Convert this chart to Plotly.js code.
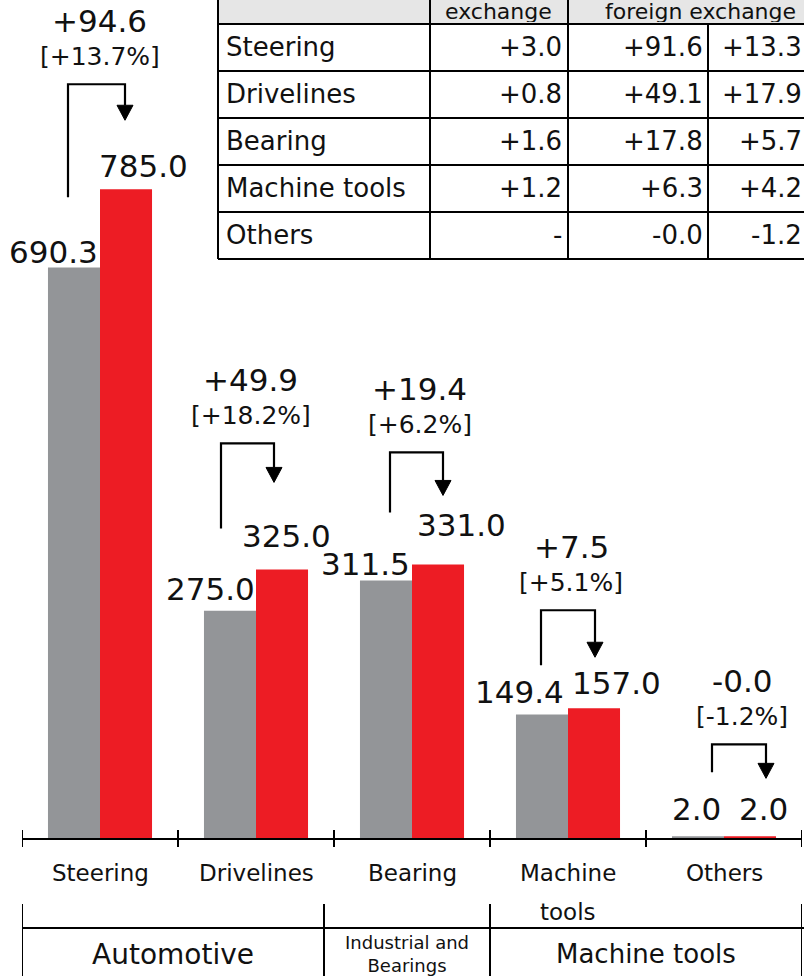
<!DOCTYPE html>
<html><head><meta charset="utf-8">
<script src="https://cdn.plot.ly/plotly-3.0.1.min.js"></script>
<style>html,body{margin:0;padding:0;background:#fff;}#chart{width:804px;height:976px;}</style>
</head><body><div id="chart"></div>
<script>
// ---------- DATA ----------
const categories   = ["Steering", "Drivelines", "Bearing", "Machine tools", "Others"];
const tickLabels   = ["Steering", "Drivelines", "Bearing", "Machine\ntools", "Others"];
const prevValues   = [690.3, 275.0, 311.5, 149.4, 2.0];
const currValues   = [785.0, 325.0, 331.0, 157.0, 2.0];
const changeValues = ["+94.6", "+49.9", "+19.4", "+7.5", "-0.0"];
const changePct    = ["[+13.7%]", "[+18.2%]", "[+6.2%]", "[+5.1%]", "[-1.2%]"];
const segmentNames = ["Automotive", "Industrial and<br>Bearings", "Machine tools"];
const tableRowLabels = ["Steering", "Drivelines", "Bearing", "Machine tools", "Others"];
const tableHeaders   = ["exchange", "foreign exchange"];
const fxImpact       = ["+3.0", "+0.8", "+1.6", "+1.2", "-"];
const exFxChange     = ["+91.6", "+49.1", "+17.8", "+6.3", "-0.0"];
const exFxRate       = ["+13.3", "+17.9", "+5.7", "+4.2", "-1.2"];

// ---------- STYLE / LAYOUT HELPERS ----------
const FONT = "DejaVu Sans";
const GRAY = "#939598", RED = "#ed1c24", INK = "#111111";
const PLOT_L = 22, PLOT_R = 802, PLOT_B = 838;
const pxX = p => (p - PLOT_L) / (PLOT_R - PLOT_L);   // pixel -> paper x
const pxY = p => (PLOT_B - p) / PLOT_B;               // pixel -> paper y

// label nudges [dx, up] in pixels
const grayLabelNudge = [[0,16],[1,22],[0,17],[-2,23],[-1,27]];
const redLabelNudge  = [[-3,23],[-16,33],[3,39],[2,25],[13,27]];
// bracket geometry in pixels relative to category centre and red bar top (up positive)
const brackets = [
  {xl:-32, bottom:-8, top:105, xr:25, tip:69},
  {xl:-35, bottom:41, top:126, xr:18, tip:87},
  {xl:-22, bottom:52, top:112, xr:31, tip:69},
  {xl:-27, bottom:43, top:98,  xr:27, tip:51},
  {xl:-12, bottom:64, top:92,  xr:42, tip:58}
];
const segmentEdges = [-0.5, 1.436, 2.5, 4.5];

const traces = [
  {type:"bar", x:categories, y:prevValues, marker:{color:GRAY}, hoverinfo:"none"},
  {type:"bar", x:categories, y:currValues, marker:{color:RED}, hoverinfo:"none"}
];

const annotations = [];
const shapes = [];

categories.forEach((c, i) => {
  // value labels
  annotations.push({x:i, y:prevValues[i], xref:"x", yref:"y", text:prevValues[i].toFixed(1),
    showarrow:false, xanchor:"right", yanchor:"middle", xshift:grayLabelNudge[i][0], yshift:grayLabelNudge[i][1],
    font:{family:FONT, size:31, color:INK}});
  annotations.push({x:i, y:currValues[i], xref:"x", yref:"y", text:currValues[i].toFixed(1),
    showarrow:false, xanchor:"left", yanchor:"middle", xshift:redLabelNudge[i][0], yshift:redLabelNudge[i][1],
    font:{family:FONT, size:31, color:INK}});
  // bracket arrow
  const b = brackets[i];
  const base = b.tip + 15;
  shapes.push({type:"path", xref:"x", yref:"y", xsizemode:"pixel", ysizemode:"pixel",
    xanchor:i, yanchor:currValues[i],
    path:`M${b.xl},${b.bottom} L${b.xl},${b.top} L${b.xr},${b.top} L${b.xr},${base}`,
    line:{color:"#000", width:2.2}});
  shapes.push({type:"path", xref:"x", yref:"y", xsizemode:"pixel", ysizemode:"pixel",
    xanchor:i, yanchor:currValues[i],
    path:`M${b.xr-8},${base} L${b.xr+8},${base} L${b.xr},${b.tip} Z`,
    fillcolor:"#000", line:{color:"#000", width:1}});
  const cx = (b.xl + b.xr) / 2 + 3;
  annotations.push({x:i, y:currValues[i], xref:"x", yref:"y", text:changePct[i], showarrow:false,
    xanchor:"center", yanchor:"middle", xshift:cx, yshift:b.top + 28,
    font:{family:FONT, size:25, color:INK}});
  annotations.push({x:i, y:currValues[i], xref:"x", yref:"y", text:changeValues[i], showarrow:false,
    xanchor:"center", yanchor:"middle", xshift:cx, yshift:b.top + 63,
    font:{family:FONT, size:31, color:INK}});
  // category labels
  tickLabels[i].split("\n").forEach((line, k) => {
    annotations.push({x:i, xref:"x", yref:"paper", y:pxY(873 + 39*k), text:line, showarrow:false,
      xanchor:"center", yanchor:"middle", font:{family:FONT, size:23, color:INK}});
  });
});

// axis ticks (crossing the axis line) at category boundaries
for (let k = 0; k <= categories.length; k++) {
  shapes.push({type:"line", xref:"x", yref:"paper", x0:k-0.5, x1:k-0.5, y0:pxY(830), y1:pxY(847),
    line:{color:"#000", width:2}});
}

// segment rows
shapes.push({type:"line", xref:"paper", yref:"paper", x0:pxX(22), x1:pxX(806), y0:pxY(928), y1:pxY(928),
  line:{color:"#000", width:2}});
segmentEdges.forEach(e => {
  shapes.push({type:"line", xref:"x", yref:"paper", x0:e, x1:e, y0:pxY(904), y1:pxY(980),
    line:{color:"#000", width:2}});
});
const segFont = [28, 18, 26];
segmentNames.forEach((s, k) => {
  annotations.push({x:(segmentEdges[k] + segmentEdges[k+1]) / 2, xref:"x", yref:"paper", y:pxY(954),
    text:s, showarrow:false, xanchor:"center", yanchor:"middle",
    font:{family:FONT, size:segFont[k], color:INK}});
});

// table
const T_L = 218, T_R = 840, T_COLS = [430, 568, 708], T_TOP = 24, ROW_H = 47;
shapes.push({type:"rect", xref:"paper", yref:"paper", x0:pxX(T_L), x1:pxX(T_R), y0:pxY(-40), y1:pxY(T_TOP),
  fillcolor:"#e6e6e6", line:{width:0}});
for (let r = 0; r <= tableRowLabels.length; r++) {
  const yy = T_TOP + r * ROW_H;
  shapes.push({type:"line", xref:"paper", yref:"paper", x0:pxX(T_L), x1:pxX(T_R), y0:pxY(yy), y1:pxY(yy),
    line:{color:"#000", width:2}});
}
const tBottom = T_TOP + tableRowLabels.length * ROW_H;
[T_L, T_COLS[0], T_COLS[1]].forEach(xx => {
  shapes.push({type:"line", xref:"paper", yref:"paper", x0:pxX(xx), x1:pxX(xx), y0:pxY(-40), y1:pxY(tBottom),
    line:{color:"#000", width:2}});
});
shapes.push({type:"line", xref:"paper", yref:"paper", x0:pxX(T_COLS[2]), x1:pxX(T_COLS[2]), y0:pxY(T_TOP), y1:pxY(tBottom),
  line:{color:"#000", width:2}});
[[498, tableHeaders[0]], [700, tableHeaders[1]]].forEach(([hx, ht]) => {
  annotations.push({x:pxX(hx), y:pxY(0), xref:"paper", yref:"paper", text:ht, showarrow:false,
    xanchor:"center", yanchor:"top", height:21, valign:"middle", borderpad:0,
    font:{family:FONT, size:22, color:INK}});
});
tableRowLabels.forEach((lab, r) => {
  const yc = pxY(T_TOP + r * ROW_H + ROW_H / 2);
  const f = {family:FONT, size:26, color:INK};
  annotations.push({x:pxX(224), y:yc, xref:"paper", yref:"paper", text:lab, showarrow:false, xanchor:"left", yanchor:"middle", font:f});
  annotations.push({x:pxX(564), y:yc, xref:"paper", yref:"paper", text:fxImpact[r], showarrow:false, xanchor:"right", yanchor:"middle", font:f});
  annotations.push({x:pxX(705), y:yc, xref:"paper", yref:"paper", text:exFxChange[r], showarrow:false, xanchor:"right", yanchor:"middle", font:f});
  annotations.push({x:pxX(804), y:yc, xref:"paper", yref:"paper", text:exFxRate[r], showarrow:false, xanchor:"right", yanchor:"middle", font:f});
});

const layout = {
  width:804, height:976,
  margin:{l:PLOT_L, r:804-PLOT_R, t:0, b:976-PLOT_B, pad:0},
  paper_bgcolor:"#fff", plot_bgcolor:"#fff",
  showlegend:false, barmode:"group", bargap:0.333, bargroupgap:0,
  font:{family:FONT, color:INK},
  xaxis:{type:"category", range:[-0.5, 4.5], showticklabels:false, ticks:"", showgrid:false, zeroline:false,
         showline:true, linecolor:"#000", linewidth:2, fixedrange:true},
  yaxis:{range:[0, 1014], visible:false, showgrid:false, zeroline:false, fixedrange:true},
  annotations, shapes
};

Plotly.newPlot("chart", traces, layout, {displayModeBar:false, staticPlot:true});
</script>
</body></html>
